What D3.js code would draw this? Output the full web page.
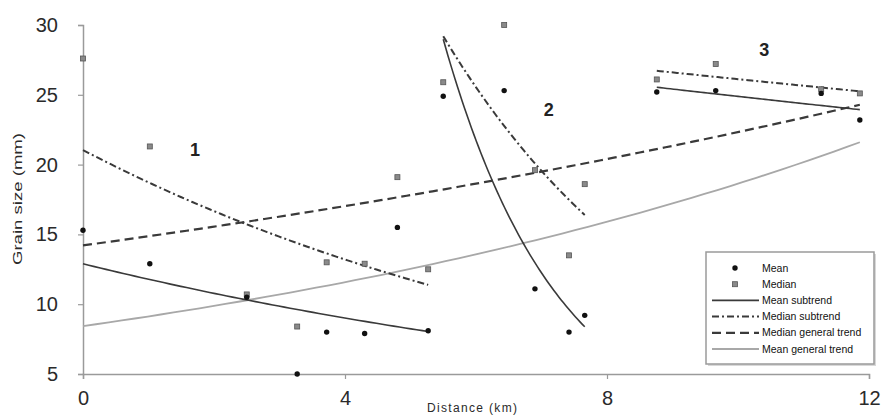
<!DOCTYPE html>
<html>
<head>
<meta charset="utf-8">
<script src="https://cdn.jsdelivr.net/npm/d3@7"></script>
<style>
  html, body { margin: 0; padding: 0; background: #fff; }
  svg { display: block; font-family: "Liberation Sans", Arial, sans-serif; }
</style>
</head>
<body>
<svg id="chart" width="885" height="419"></svg>
<script>
// Sampling stations along the transect (km)
const distance = [0, 1.02, 2.5, 3.27, 3.72, 4.3, 4.8, 5.27,
                  5.5, 6.43, 6.9, 7.42, 7.66,
                  8.76, 9.66, 11.27, 11.86];
// Grain size (mm) per station
const meanSize = [15.3, 12.9, 10.5, 5.0, 8.0, 7.9, 15.5, 8.1,
                  24.9, 25.3, 11.1, 8.0, 9.2,
                  25.2, 25.3, 25.1, 23.2];
const medianSize = [27.6, 21.3, 10.7, 8.4, 13.0, 12.9, 19.1, 12.5,
                    25.9, 30.0, 19.6, 13.5, 18.6,
                    26.1, 27.2, 25.4, 25.1];
// Reach number of each station
const reach = [1, 1, 1, 1, 1, 1, 1, 1,
               2, 2, 2, 2, 2,
               3, 3, 3, 3];
const reachLabels = [
  { text: "1", x: 1.71, y: 21.1 },
  { text: "2", x: 7.11, y: 23.9 },
  { text: "3", x: 10.4, y: 28.2 }
];
const xTicks = [0, 4, 8, 12];
const yTicks = [5, 10, 15, 20, 25, 30];

const svg = d3.select("#chart");
const x = d3.scaleLinear().domain([0, 12]).range([83, 869]);
const y = d3.scaleLinear().domain([5, 30]).range([374, 25]);

// Exponential least-squares trend: ln(y) = a + b x
function expFit(xs, ys) {
  const ly = ys.map(Math.log);
  const mx = d3.mean(xs), my = d3.mean(ly);
  let sxy = 0, sxx = 0;
  xs.forEach((v, i) => { sxy += (v - mx) * (ly[i] - my); sxx += (v - mx) * (v - mx); });
  const b = sxy / sxx, a = my - b * mx;
  const x0 = d3.min(xs), x1 = d3.max(xs);
  return d3.range(0, 61).map(k => {
    const xv = x0 + (x1 - x0) * k / 60;
    return [xv, Math.exp(a + b * xv)];
  });
}
const line = d3.line().x(d => x(d[0])).y(d => y(d[1]));

// Axes
const axisColor = "#9a9a9a";
const gx = svg.append("g").attr("transform", "translate(0,374)")
  .call(d3.axisBottom(x).tickValues(xTicks).tickSize(5).tickPadding(9).tickFormat(d3.format("d")));
const gy = svg.append("g").attr("transform", "translate(83,0)")
  .call(d3.axisLeft(y).tickValues(yTicks).tickSize(5).tickPadding(20).tickFormat(d3.format("d")));
[gx, gy].forEach(g => {
  g.select(".domain").attr("stroke", axisColor).attr("stroke-width", 1.5);
  g.selectAll(".tick line").attr("stroke", axisColor).attr("stroke-width", 1.2);
  g.selectAll(".tick text").attr("fill", "#2a2a2a").attr("font-size", 20)
    .attr("font-family", "Liberation Sans, Arial, sans-serif");
});
gx.selectAll(".tick text").attr("dy", "0.85em");

svg.append("text").attr("x", 472).attr("y", 412).attr("text-anchor", "middle")
  .attr("font-size", 12).attr("fill", "#2a2a2a").attr("textLength", 90)
  .text("Distance (km)");
svg.append("text").attr("transform", "translate(22,199) rotate(-90)")
  .attr("text-anchor", "middle").attr("font-size", 13).attr("fill", "#2a2a2a")
  .attr("textLength", 132).attr("lengthAdjust", "spacingAndGlyphs")
  .text("Grain size (mm)");

// Trend lines
const styles = {
  meanSub:   { stroke: "#3a3a3a", width: 1.6, dash: null },
  medianSub: { stroke: "#3a3a3a", width: 2,   dash: "7,3,2,3" },
  medianGen: { stroke: "#3a3a3a", width: 2.2, dash: "9,5" },
  meanGen:   { stroke: "#a8a8a8", width: 1.8, dash: null }
};
function drawTrend(pts, st) {
  svg.append("path").attr("d", line(pts)).attr("fill", "none")
    .attr("stroke", st.stroke).attr("stroke-width", st.width)
    .attr("stroke-dasharray", st.dash);
}
drawTrend(expFit(distance, meanSize), styles.meanGen);
drawTrend(expFit(distance, medianSize), styles.medianGen);
[1, 2, 3].forEach(r => {
  const idx = d3.range(distance.length).filter(i => reach[i] === r);
  const xs = idx.map(i => distance[i]);
  drawTrend(expFit(xs, idx.map(i => meanSize[i])), styles.meanSub);
  drawTrend(expFit(xs, idx.map(i => medianSize[i])), styles.medianSub);
});

// Points
svg.append("g").selectAll("rect").data(distance).join("rect")
  .attr("x", d => x(d) - 2.5).attr("y", (d, i) => y(medianSize[i]) - 2.5)
  .attr("width", 5).attr("height", 5)
  .attr("fill", "#8a8a8a").attr("stroke", "#555").attr("stroke-width", 0.8);
svg.append("g").selectAll("circle").data(distance).join("circle")
  .attr("cx", d => x(d)).attr("cy", (d, i) => y(meanSize[i])).attr("r", 2.7)
  .attr("fill", "#111");

// Reach numbers
svg.append("g").selectAll("text").data(reachLabels).join("text")
  .attr("x", d => x(d.x)).attr("y", d => y(d.y)).attr("dy", "0.35em")
  .attr("text-anchor", "middle").attr("font-size", 18).attr("font-weight", "bold")
  .attr("fill", "#222").text(d => d.text);

// Legend
const legendItems = [
  { label: "Mean", kind: "mean" },
  { label: "Median", kind: "median" },
  { label: "Mean subtrend", kind: "meanSub" },
  { label: "Median subtrend", kind: "medianSub" },
  { label: "Median general trend", kind: "medianGen" },
  { label: "Mean general trend", kind: "meanGen" }
];
const lg = svg.append("g").attr("transform", "translate(706,252)");
lg.append("rect").attr("x", 2).attr("y", 2).attr("width", 168).attr("height", 112)
  .attr("fill", "#d8d8d8");
lg.append("rect").attr("width", 168).attr("height", 112)
  .attr("fill", "#fff").attr("stroke", "#9a9a9a").attr("stroke-width", 1.5);
const row = lg.selectAll("g.item").data(legendItems).join("g").attr("class", "item")
  .attr("transform", (d, i) => `translate(0,${16 + i * 16.2})`);
row.each(function (d) {
  const g = d3.select(this);
  if (d.kind === "mean") {
    g.append("circle").attr("cx", 29).attr("cy", 0).attr("r", 2.7).attr("fill", "#111");
  } else if (d.kind === "median") {
    g.append("rect").attr("x", 26.5).attr("y", -2.5).attr("width", 5).attr("height", 5)
      .attr("fill", "#8a8a8a").attr("stroke", "#555").attr("stroke-width", 0.8);
  } else {
    const st = styles[d.kind];
    g.append("line").attr("x1", 6).attr("x2", 53).attr("y1", 0).attr("y2", 0)
      .attr("stroke", st.stroke).attr("stroke-width", st.width).attr("stroke-dasharray", st.dash);
  }
});
row.append("text").attr("x", 56).attr("dy", "0.35em").attr("font-size", 10.5)
  .attr("fill", "#111").text(d => d.label);
</script>
</body>
</html>
